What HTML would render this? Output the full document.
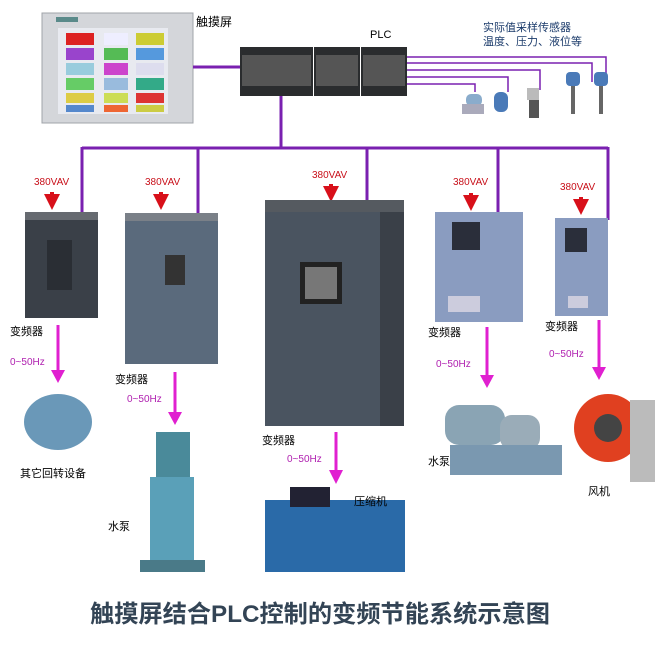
<!DOCTYPE html>
<html><head><meta charset="utf-8"><style>
body{margin:0;background:#fff}
svg{display:block}
text{font-family:"Liberation Sans","Noto Sans CJK SC",sans-serif}
</style></head><body>
<svg width="667" height="650" viewBox="0 0 667 650" xmlns="http://www.w3.org/2000/svg">
<defs>
<marker id="rh" markerWidth="4" markerHeight="4" refX="2" refY="2" orient="auto"><path d="M0,0L4,2L0,4z" fill="#d8101a"/></marker>
</defs>
<rect x="42" y="13" width="151" height="110" fill="#d4d6da" stroke="#a0a4aa"/>
<rect x="58" y="28" width="110" height="86" fill="#e8eaf0"/>
<rect x="56" y="17" width="22" height="5" fill="#5a8a8a"/>
<g>
<rect x="66" y="33" width="28" height="12" fill="#d22"/><rect x="104" y="33" width="24" height="12" fill="#eef"/><rect x="136" y="33" width="28" height="12" fill="#cc3"/>
<rect x="66" y="48" width="28" height="12" fill="#94c"/><rect x="104" y="48" width="24" height="12" fill="#5b5"/><rect x="136" y="48" width="28" height="12" fill="#59d"/>
<rect x="66" y="63" width="28" height="12" fill="#9cd"/><rect x="104" y="63" width="24" height="12" fill="#c4c"/><rect x="136" y="63" width="28" height="12" fill="#dde"/>
<rect x="66" y="78" width="28" height="12" fill="#6c6"/><rect x="104" y="78" width="24" height="12" fill="#9bd"/><rect x="136" y="78" width="28" height="12" fill="#3a8"/>
<rect x="66" y="93" width="28" height="10" fill="#dc4"/><rect x="104" y="93" width="24" height="10" fill="#cd5"/><rect x="136" y="93" width="28" height="10" fill="#d33"/>
<rect x="66" y="105" width="28" height="7" fill="#58c"/><rect x="104" y="105" width="24" height="7" fill="#e63"/><rect x="136" y="105" width="28" height="7" fill="#cc4"/>
</g>
<text x="196" y="26" font-size="12">触摸屏</text>
<text x="370" y="38" font-size="11" font-family="Liberation Serif,serif">PLC</text>
<text x="483" y="31" font-size="11" fill="#1a3a6a">实际值采样传感器</text>
<text x="483" y="45" font-size="11" fill="#1a3a6a">温度、压力、液位等</text>
<rect x="240" y="47" width="73" height="49" fill="#2a2c2e"/><rect x="314" y="47" width="46" height="49" fill="#2a2c2e"/><rect x="361" y="47" width="46" height="49" fill="#2a2c2e"/>
<rect x="242" y="55" width="69" height="31" fill="#555"/><rect x="316" y="55" width="42" height="31" fill="#555"/><rect x="363" y="55" width="42" height="31" fill="#555"/>
<g stroke="#7a20b0" stroke-width="3" fill="none">
<path d="M193,67H240"/>
<path d="M281,96V148M82,148H608M82,147V215M198,147V215M367,147V202M498,147V214M608,147V220"/>
</g>
<g stroke="#7a20b0" stroke-width="1.5" fill="none">
<path d="M407,57H606V80M407,63H592V82M407,70H540V90M407,77H508V92M407,84H475V92"/>
</g>
<g fill="#4a7ab8">
<rect x="466" y="94" width="16" height="12" rx="5" fill="#8aaccc"/><rect x="462" y="104" width="22" height="10" fill="#aab"/>
<rect x="494" y="92" width="14" height="20" rx="6"/>
<rect x="527" y="88" width="12" height="12" fill="#bbb"/><rect x="529" y="100" width="10" height="18" fill="#555"/>
<rect x="566" y="72" width="14" height="14" rx="4"/><rect x="571" y="86" width="4" height="28" fill="#666"/>
<rect x="594" y="72" width="14" height="14" rx="4"/><rect x="599" y="86" width="4" height="28" fill="#666"/>
</g>
<g font-size="10" fill="#c8101a" font-family="Liberation Sans Narrow,Liberation Sans,sans-serif">
<text x="34" y="185">380VAV</text><text x="145" y="185">380VAV</text><text x="312" y="178">380VAV</text><text x="453" y="185">380VAV</text><text x="560" y="190">380VAV</text>
</g>
<g stroke="#d8101a" stroke-width="4" marker-end="url(#rh)">
<path d="M52,192V202"/><path d="M161,192V202"/><path d="M331,184V194"/><path d="M471,193V203"/><path d="M581,197V207"/>
</g>
<rect x="25" y="212" width="73" height="106" fill="#3a4048"/><rect x="25" y="212" width="73" height="8" fill="#666a70"/><rect x="47" y="240" width="25" height="50" fill="#2a2e34"/>
<rect x="125" y="213" width="93" height="151" fill="#5a6a7c"/><rect x="125" y="213" width="93" height="8" fill="#7a8088"/><rect x="165" y="255" width="20" height="30" fill="#333"/>
<rect x="265" y="200" width="139" height="226" fill="#4a5460"/><rect x="265" y="200" width="139" height="12" fill="#555a60"/><rect x="300" y="262" width="42" height="42" fill="#222"/><rect x="305" y="267" width="32" height="32" fill="#777"/><rect x="380" y="212" width="24" height="214" fill="#3a4048"/>
<rect x="435" y="212" width="88" height="110" fill="#8a9cc0"/><rect x="452" y="222" width="28" height="28" fill="#2a2e3a"/><rect x="448" y="296" width="32" height="16" fill="#ccd"/>
<rect x="555" y="218" width="53" height="98" fill="#8a9cc0"/><rect x="565" y="228" width="22" height="24" fill="#2a2e3a"/><rect x="568" y="296" width="20" height="12" fill="#ccd"/>
<g font-size="11">
<text x="10" y="335">变频器</text><text x="115" y="383">变频器</text><text x="262" y="444">变频器</text><text x="428" y="336">变频器</text><text x="545" y="330">变频器</text>
</g>
<g stroke="#e020d0" stroke-width="3" fill="#e020d0">
<path d="M58,325V370"/><path d="M175,372V412"/><path d="M336,432V470"/><path d="M487,327V375"/><path d="M599,320V367"/>
</g>
<g fill="#e020d0">
<path d="M51,370H65L58,383z"/><path d="M168,412H182L175,425z"/><path d="M329,470H343L336,484z"/><path d="M480,375H494L487,388z"/><path d="M592,367H606L599,380z"/>
</g>
<g font-size="10" fill="#b020b0" font-family="Liberation Sans Narrow,Liberation Sans,sans-serif">
<text x="10" y="365">0~50Hz</text><text x="127" y="402">0~50Hz</text><text x="287" y="462">0~50Hz</text><text x="436" y="367">0~50Hz</text><text x="549" y="357">0~50Hz</text>
</g>
<ellipse cx="58" cy="422" rx="34" ry="28" fill="#6a98b8"/>
<rect x="156" y="432" width="34" height="45" fill="#4a8a9a"/><rect x="150" y="477" width="44" height="85" fill="#5aa0b8"/><rect x="140" y="560" width="65" height="12" fill="#4a7a88"/>
<rect x="265" y="500" width="140" height="72" fill="#2a6aa8"/><rect x="290" y="487" width="40" height="20" fill="#223"/>
<rect x="445" y="405" width="60" height="40" rx="14" fill="#8aa4b4"/><rect x="500" y="415" width="40" height="35" rx="12" fill="#9aacb8"/><rect x="450" y="445" width="112" height="30" fill="#7a98b0"/>
<circle cx="608" cy="428" r="34" fill="#e04020"/><circle cx="608" cy="428" r="14" fill="#444"/><rect x="630" y="400" width="25" height="82" fill="#bbb"/>
<g font-size="11">
<text x="20" y="477">其它回转设备</text><text x="108" y="530">水泵</text><text x="354" y="505">压缩机</text><text x="428" y="465">水泵</text><text x="588" y="495">风机</text>
</g>
<text x="90" y="622" font-size="24" font-weight="bold" fill="#334455" font-family="Liberation Serif,Noto Serif CJK SC,serif" textLength="460" lengthAdjust="spacingAndGlyphs">触摸屏结合PLC控制的变频节能系统示意图</text>
</svg>
</body></html>
